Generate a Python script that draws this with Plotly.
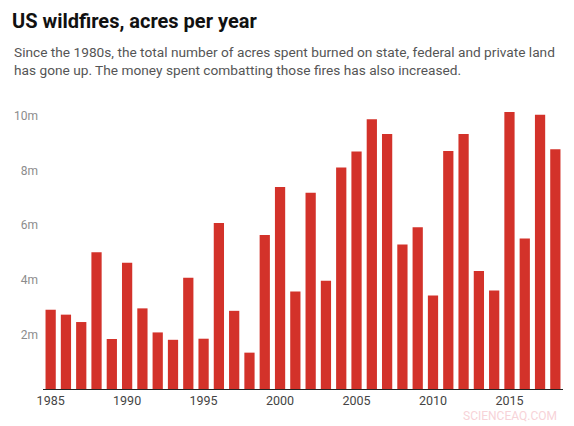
import plotly.graph_objects as go

# acres burned per year, millions
years = list(range(1985, 2019))
acres_m = [
    2.90, 2.72, 2.45, 5.00, 1.83, 4.62, 2.95, 2.07, 1.80, 4.07,
    1.84, 6.07, 2.86, 1.33, 5.63, 7.39, 3.57, 7.18, 3.96, 8.10,
    8.69, 9.87, 9.33, 5.29, 5.92, 3.42, 8.71, 9.33, 4.32, 3.60,
    10.13, 5.51, 10.03, 8.77,
]
x_ticks = [1985, 1990, 1995, 2000, 2005, 2010, 2015]
y_ticks = [2, 4, 6, 8, 10]
y_labels = ["2m", "4m", "6m", "8m", "10m"]

TITLE = "US wildfires, acres per year"
SUBTITLE = (
    "Since the 1980s, the total number of acres spent burned on state, federal and private land<br>"
    "has gone up. The money spent combatting those fires has also increased."
)
RED = "#d3322a"

fig = go.Figure(
    go.Bar(x=years, y=acres_m, marker_color=RED, marker_line_width=0,
           hovertemplate="%{x}: %{y:.2f}m acres<extra></extra>")
)

fig.update_layout(
    width=574,
    height=426,
    autosize=False,
    template="simple_white",
    paper_bgcolor="white",
    plot_bgcolor="white",
    font={"family": "Roboto, Arial, sans-serif", "size": 12, "color": "#444"},
    margin={"t": 102, "r": 11, "b": 37, "l": 43},
    bargap=0.33,
    showlegend=False,
    title={
        "text": f"<b>{TITLE}</b>",
        "x": 12 / 574,
        "xanchor": "left",
        "y": 1 - 21 / 426,
        "yanchor": "middle",
        "font": {"size": 20, "color": "#111"},
    },
)

fig.add_annotation(
    text=SUBTITLE,
    xref="paper", yref="paper",
    x=-31 / 520, y=(389 - 42) / 287,
    xanchor="left", yanchor="top",
    align="left", showarrow=False,
    font={"size": 13.7, "color": "#555"},
)
fig.add_annotation(
    text="SCIENCEAQ.COM",
    xref="paper", yref="paper",
    x=(559 - 43) / 520, y=-(416 - 389) / 287,
    xanchor="right", yanchor="middle",
    showarrow=False,
    font={"size": 12, "color": "#f7d3d8"},
)

fig.update_xaxes(
    range=[1984.5, 2018.5],
    tickvals=x_ticks,
    ticks="",
    showline=True,
    linecolor="#222",
    linewidth=1.2,
    showgrid=False,
    tickfont={"size": 12.5, "color": "#444"},
    fixedrange=True,
)
fig.update_yaxes(
    range=[0, 10.5],
    tickvals=y_ticks,
    ticktext=y_labels,
    ticks="",
    showline=False,
    showgrid=False,
    zeroline=False,
    ticklabelstandoff=4,
    tickfont={"size": 12, "color": "#8c8c8c"},
    fixedrange=True,
)

# drop the browser's default 8px body margin so the figure sits at the page corner
fig.write_html(
    "out.html",
    config={"displayModeBar": False},
    post_script="document.body.style.margin='0';",
)
